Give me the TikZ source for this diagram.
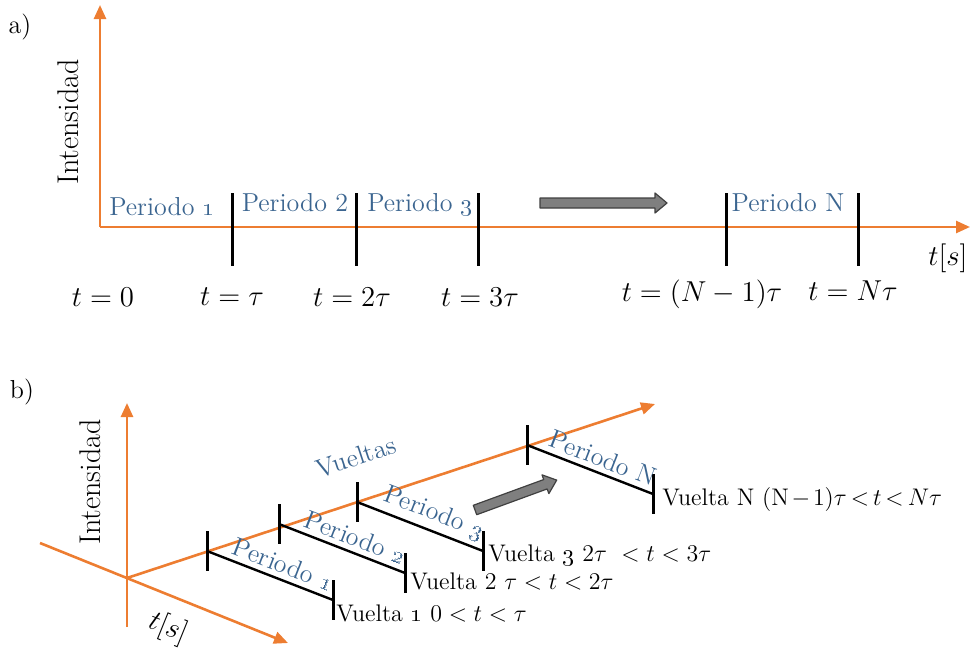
\documentclass[tikz,border=0pt]{standalone}
\usepackage{tikz}
\usetikzlibrary{arrows.meta, calc}
\definecolor{axisor}{HTML}{ED7D31}
\definecolor{perblue}{HTML}{3B6590}
\definecolor{arrgray}{HTML}{7F7F7F}
\tikzset{
  axis/.style={
    -{Triangle[length=7pt,width=6pt]},
    line width=1.3pt,
    color=axisor
  },
  tickmark/.style={line width=1.5pt, black},
  segline/.style={line width=1.2pt, black},
  perlabel/.style={font=\fontsize{13}{15}\selectfont, text=perblue, inner sep=1pt},
  tlabel/.style={font=\fontsize{14}{16}\selectfont},
  vlabel/.style={font=\fontsize{12}{14}\selectfont, anchor=west, inner sep=1pt},
  ylabel/.style={font=\fontsize{15}{17}\selectfont, rotate=90},
  partlabel/.style={font=\fontsize{13}{15}\selectfont},
  blockarrow/.style={draw=black!75, fill=arrgray, line width=0.6pt, line join=round}
}

\begin{document}
\begin{tikzpicture}[x=0.5pt, y=-0.5pt]
  \useasboundingbox (0,0) rectangle (974,649);

  % ====== a) LINEAR TIME AXIS ======
  \node[partlabel] (alab) at (20,27) {a)};
  \coordinate (aO) at (100,227);
  \coordinate (aY) at (100,5);
  \coordinate (aX) at (970,227);
  \draw[axis] (aO) -- (aY);
  \draw[axis] (aO) -- (aX);
  \node[ylabel] (aint) at (68,122) {Intensidad};
  \node[tlabel] (ats) at (948,258) {$t[s]$};

  % period boundaries
  \foreach \n/\x in {1/232, 2/356, 3/478, 4/726, 5/858}
    \draw[tickmark] (\x,193) coordinate (ta\n) -- (\x,266);

  \node[perlabel] (pa1) at (162,207) {Periodo \oldstylenums{1}};
  \node[perlabel] (pa2) at (295,203) {Periodo 2};
  \node[perlabel] (pa3) at (420,205) {Periodo \oldstylenums{3}};
  \node[perlabel] (paN) at (788,203) {Periodo N};

  % time stamps
  \node[tlabel] (tl0) at (103,297) {$t=0$};
  \node[tlabel] (tl1) at (232,297) {$t=\tau$};
  \node[tlabel] (tl2) at (352,297) {$t=2\tau$};
  \node[tlabel] (tl3) at (480,297) {$t=3\tau$};
  \node[tlabel] (tl4) at (702,294) {$t=(N-1)\tau$};
  \node[tlabel] (tl5) at (853,291) {$t=N\tau$};

  % continuation arrow
  \draw[blockarrow] (540,198) -- (655,198) -- (655,193) -- (667,203)
    -- (655,213) -- (655,208) -- (540,208) -- cycle;

  % ====== b) TURNS AXIS ======
  \node[partlabel] (blab) at (22,392) {b)};
  \coordinate (bO) at (127,578);
  \coordinate (bYb) at (127,627);
  \coordinate (bY) at (127,403);
  \coordinate (bTb) at (40,543);
  \coordinate (bT) at (288,643);
  \coordinate (bV) at (655,404);
  \draw[axis] (bYb) -- (bY);
  \draw[axis] (bTb) -- (bT);
  \draw[axis] (bO) -- (bV);
  \node[ylabel] (bint) at (90,482) {Intensidad};
  \node[tlabel, rotate=-22, inner sep=1pt] (bts) at (168,628) {$t[s]$};
  \node[perlabel, rotate=18.3] (vuel) at (356,457) {Vueltas};

  % one segment per turn
  \foreach \n/\x/\y/\lab in {1/207/551/{Periodo \oldstylenums{1}},
                             2/279/524/{Periodo \oldstylenums{2}},
                             3/357/502/{Periodo \oldstylenums{3}},
                             N/527/445/{Periodo N}} {
    \coordinate (s\n) at (\x,\y);
    \coordinate (e\n) at ($(s\n)+(126,49)$);
    \draw[tickmark] ($(s\n)+(0,-20)$) -- ($(s\n)+(0,20)$);
    \draw[tickmark] ($(e\n)+(0,-20)$) -- ($(e\n)+(0,20)$);
    \draw[segline] (s\n) -- (e\n)
      node[perlabel, pos=0.56, sloped, above=1.5pt] (pb\n) {\lab};
  }

  \node[vlabel] (v1) at (334,613) {Vuelta \oldstylenums{1} $0<t<\tau$};
  \node[vlabel] (v2) at (408,581) {Vuelta 2 $\tau<t<2\tau$};
  \node[vlabel] (v3) at (486,555) {Vuelta \oldstylenums{3} $2\tau\ <t<3\tau$};
  \node[vlabel] (vN) at (660,499) {Vuelta N $\thickmuskip=3mu\medmuskip=2mu(\mathrm{N}-1)\tau<t<N\tau$};

  % continuation arrow
  \begin{scope}[shift={(475,510)}, rotate=20.1]
    \draw[blockarrow] (0,-5) -- (75,-5) -- (75,-10) -- (87,0)
      -- (75,10) -- (75,5) -- (0,5) -- cycle;
  \end{scope}

\end{tikzpicture}
\end{document}
